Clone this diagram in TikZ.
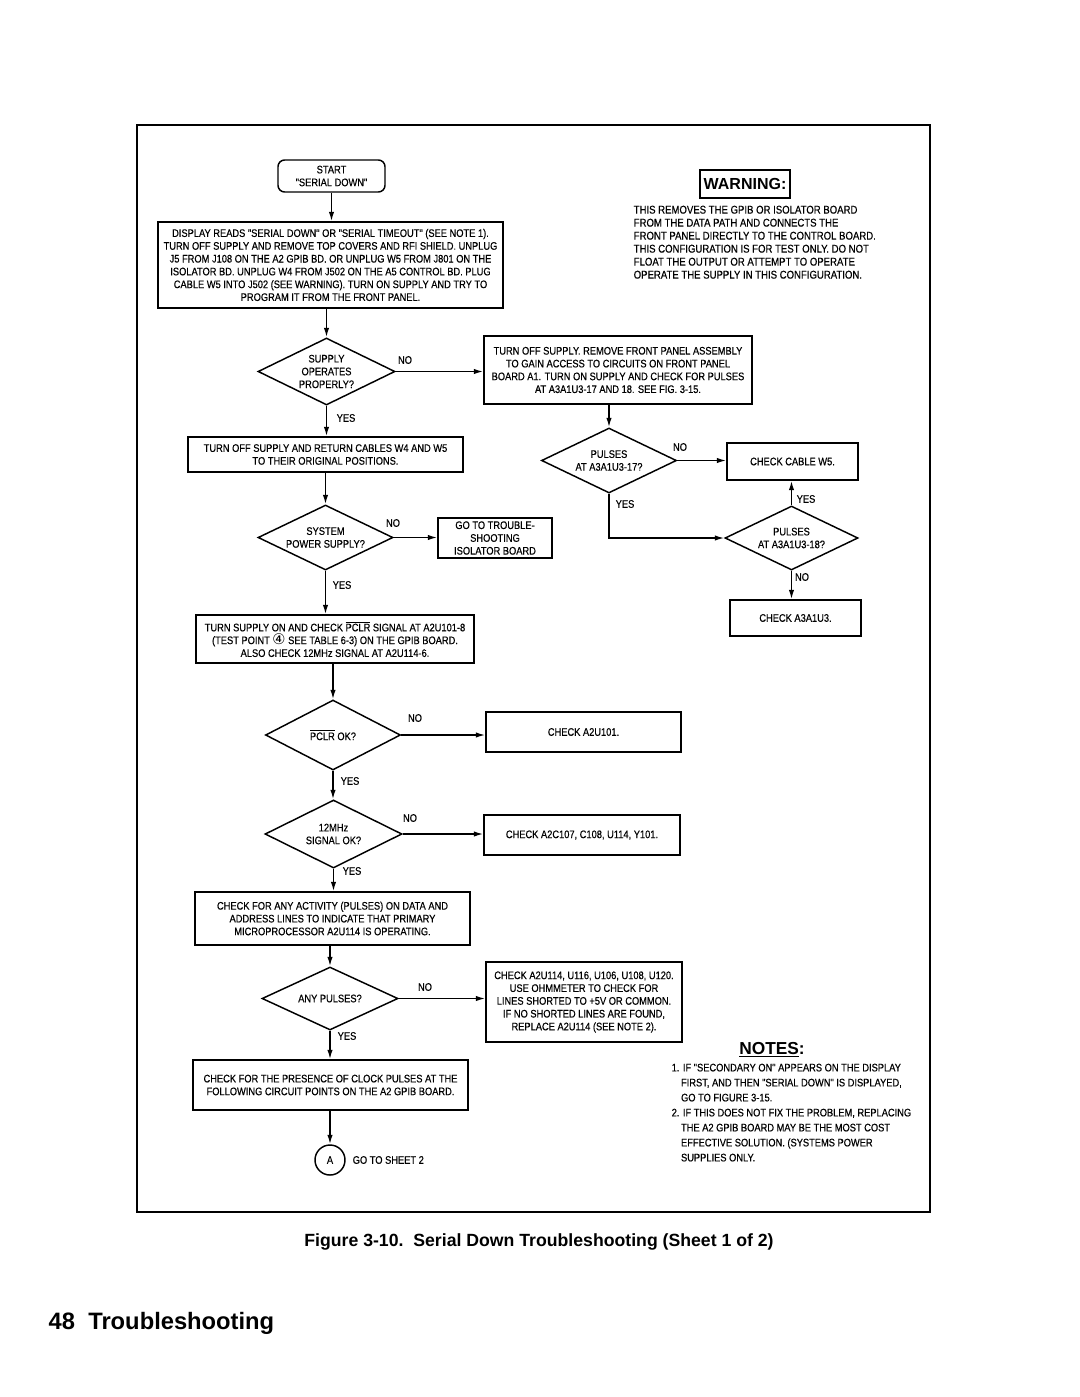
\documentclass[tikz,border=0pt]{standalone}
\usepackage{fontspec}
\setmainfont{Liberation Sans}
\newfontfamily\dg[FakeStretch=0.85,FakeBold=0.4]{Liberation Sans}
\newfontfamily\djv{DejaVu Sans}
\usetikzlibrary{arrows.meta,shapes.geometric}
\begin{document}
\begin{tikzpicture}[x=0.75pt,y=-0.75pt, line width=1.1pt,
  every node/.style={font=\dg\fontsize{8.2}{9.6}\selectfont, inner sep=0pt},
  bx/.style 2 args={draw, rectangle, minimum width=#1*0.75pt, minimum height=#2*0.75pt, align=center},
  dm/.style 2 args={draw, diamond, aspect=2, minimum width=#1*0.75pt, minimum height=#2*0.75pt, align=center},
  arr/.style={-{Latex[length=7pt,width=4pt]}}]
\useasboundingbox (0,0) rectangle (1080,1397);
\fill[white] (0,0) rectangle (1080,1397);
% frame
\draw[line width=1.6pt] (137,125) rectangle (930,1212);

% left column
\node[bx={107}{32}, rounded corners=5pt] (start) at (331.5,176) {START\\"SERIAL DOWN"};
\node[bx={345}{86}] (disp) at (330.5,265) {DISPLAY READS "SERIAL DOWN" OR "SERIAL TIMEOUT" (SEE NOTE 1).\\
TURN OFF SUPPLY AND REMOVE TOP COVERS AND RFI SHIELD. UNPLUG\\
J5 FROM J108 ON THE A2 GPIB BD. OR UNPLUG W5 FROM J801 ON THE\\
ISOLATOR BD. UNPLUG W4 FROM J502 ON THE A5 CONTROL BD. PLUG\\
CABLE W5 INTO J502 (SEE WARNING). TURN ON SUPPLY AND TRY TO\\
PROGRAM IT FROM THE FRONT PANEL.};
\node[dm={137}{67}] (d1) at (326.5,371.5) {SUPPLY\\OPERATES\\PROPERLY?};
\node[bx={268}{68}] (r1) at (618,370) {TURN OFF SUPPLY. REMOVE FRONT PANEL ASSEMBLY\\
TO GAIN ACCESS TO CIRCUITS ON FRONT PANEL\\
BOARD A1. TURN ON SUPPLY AND CHECK FOR PULSES\\
AT A3A1U3-17 AND 18. SEE FIG. 3-15.};
\node[bx={275}{35}] (b2) at (325.5,454.5) {TURN OFF SUPPLY AND RETURN CABLES W4 AND W5\\TO THEIR ORIGINAL POSITIONS.};
\node[dm={135}{65}] (d2) at (325.5,537.5) {SYSTEM\\POWER SUPPLY?};
\node[bx={114}{40}] (iso) at (495,538) {GO TO TROUBLE-\\SHOOTING\\ISOLATOR BOARD};
\node[bx={278}{48}] (b3) at (335,639) {TURN SUPPLY ON AND CHECK $\overline{\hbox{PCLR}}$ SIGNAL AT A2U101-8\\
(TEST POINT {\djv\fontsize{11}{9.6}\selectfont ④} SEE TABLE 6-3) ON THE GPIB BOARD.\\
ALSO CHECK 12MHz SIGNAL AT A2U114-6.};
\node[dm={135}{70}] (d3) at (333,735) {$\overline{\hbox{PCLR}}$ OK?};
\node[bx={195}{40}] (c101) at (583.5,732) {CHECK A2U101.};
\node[dm={137}{68}] (d4) at (333.5,834) {12MHz\\SIGNAL OK?};
\node[bx={196}{40}] (c107) at (582,835) {CHECK A2C107, C108, U114, Y101.};
\node[bx={275}{53}] (b4) at (332.5,918.5) {CHECK FOR ANY ACTIVITY (PULSES) ON DATA AND\\
ADDRESS LINES TO INDICATE THAT PRIMARY\\
MICROPROCESSOR A2U114 IS OPERATING.};
\node[dm={136}{63}] (d5) at (330,998.5) {ANY PULSES?};
\node[bx={196}{80}] (c114) at (584,1002) {CHECK A2U114, U116, U106, U108, U120.\\
USE OHMMETER TO CHECK FOR\\
LINES SHORTED TO +5V OR COMMON.\\
IF NO SHORTED LINES ARE FOUND,\\
REPLACE A2U114 (SEE NOTE 2).};
\node[bx={275}{50}] (b5) at (330.5,1085) {CHECK FOR THE PRESENCE OF CLOCK PULSES AT THE\\
FOLLOWING CIRCUIT POINTS ON THE A2 GPIB BOARD.};
\node[draw, circle, minimum size=30*0.75pt] (circA) at (330,1160) {A};
\node[anchor=west] (goto) at (352,1160) {GO TO SHEET 2};

% right column
\node[dm={135}{65}] (d6) at (609,460.5) {PULSES\\AT A3A1U3-17?};
\node[bx={131}{37}] (cw5) at (792.5,461.5) {CHECK CABLE W5.};
\node[dm={133}{64}] (d7) at (791.5,538) {PULSES\\AT A3A1U3-18?};
\node[bx={131}{36}] (ca3) at (795.5,618) {CHECK A3A1U3.};

% connectors
\draw[arr] (start.south) -- (start.south |- disp.north);
\draw[arr] (d1.north |- disp.south) -- (d1.north);
\draw[arr] (d1.east) -- (d1.east -| r1.west);
\draw[arr] (d1.south) -- (d1.south |- b2.north);
\draw[arr] (d2.north |- b2.south) -- (d2.north);
\draw[arr] (d2.east) -- (d2.east -| iso.west);
\draw[arr] (d2.south) -- (d2.south |- b3.north);
\draw[arr] (d3.north |- b3.south) -- (d3.north);
\draw[arr] (d3.east) -- (d3.east -| c101.west);
\draw[arr] (d3.south) -- (d3.south |- d4.north);
\draw[arr] (d4.east) -- (d4.east -| c107.west);
\draw[arr] (d4.south) -- (d4.south |- b4.north);
\draw[arr] (d5.north |- b4.south) -- (d5.north);
\draw[arr] (d5.east) -- (d5.east -| c114.west);
\draw[arr] (d5.south) -- (d5.south |- b5.north);
\draw[arr] (circA.north |- b5.south) -- (circA.north);
\draw[arr] (d6.north |- r1.south) -- (d6.north);
\draw[arr] (d6.east) -- (d6.east -| cw5.west);
\draw[arr] (d6.south) |- (d7.west);
\draw[arr] (d7.north) -- (d7.north |- cw5.south);
\draw[arr] (d7.south) -- (d7.south |- ca3.north);

% labels
\node (n1) at (405,360) {NO};
\node (y1) at (346,418) {YES};
\node (n2) at (393,523) {NO};
\node (y2) at (342,585) {YES};
\node (n3) at (415,718) {NO};
\node (y3) at (350,781) {YES};
\node (n4) at (410,818) {NO};
\node (y4) at (352,871) {YES};
\node (n5) at (425,987) {NO};
\node (y5) at (347,1036) {YES};
\node (n6) at (680,447) {NO};
\node (y6) at (625,504) {YES};
\node (y7) at (806,499) {YES};
\node (n7) at (802,577) {NO};

% warning
\node[draw, line width=2.2pt, minimum width=90*0.75pt, minimum height=28*0.75pt, font=\fontsize{12}{12}\selectfont\bfseries] (warn) at (745,184) {WARNING:};
\node[anchor=north west, align=left, font=\dg\fontsize{8.45}{9.75}\selectfont] (warntext) at (633,205) {THIS REMOVES THE GPIB OR ISOLATOR BOARD\\
FROM THE DATA PATH AND CONNECTS THE\\
FRONT PANEL DIRECTLY TO THE CONTROL BOARD.\\
THIS CONFIGURATION IS FOR TEST ONLY. DO NOT\\
FLOAT THE OUTPUT OR ATTEMPT TO OPERATE\\
OPERATE THE SUPPLY IN THIS CONFIGURATION.};

% notes
\node[font=\fontsize{13}{13}\selectfont\bfseries] (notes) at (772,1050) {\underline{NOTES}:};
\node[anchor=north west, align=left, font=\dg\fontsize{8.2}{11.25}\selectfont] (notetext) at (671,1063) {1. IF "SECONDARY ON" APPEARS ON THE DISPLAY\\
\hspace*{7pt}FIRST, AND THEN "SERIAL DOWN" IS DISPLAYED,\\
\hspace*{7pt}GO TO FIGURE 3-15.\\
2. IF THIS DOES NOT FIX THE PROBLEM, REPLACING\\
\hspace*{7pt}THE A2 GPIB BOARD MAY BE THE MOST COST\\
\hspace*{7pt}EFFECTIVE SOLUTION. (SYSTEMS POWER\\
\hspace*{7pt}SUPPLIES ONLY.};

% captions
\node[font=\fontsize{13.25}{15}\selectfont\bfseries] (caption) at (539,1242) {Figure 3-10.\ \ Serial Down Troubleshooting (Sheet 1 of 2)};
\node[anchor=west, font=\fontsize{17.8}{19}\selectfont\bfseries] (footer) at (48,1323) {48\ \ Troubleshooting};
\end{tikzpicture}
\end{document}
